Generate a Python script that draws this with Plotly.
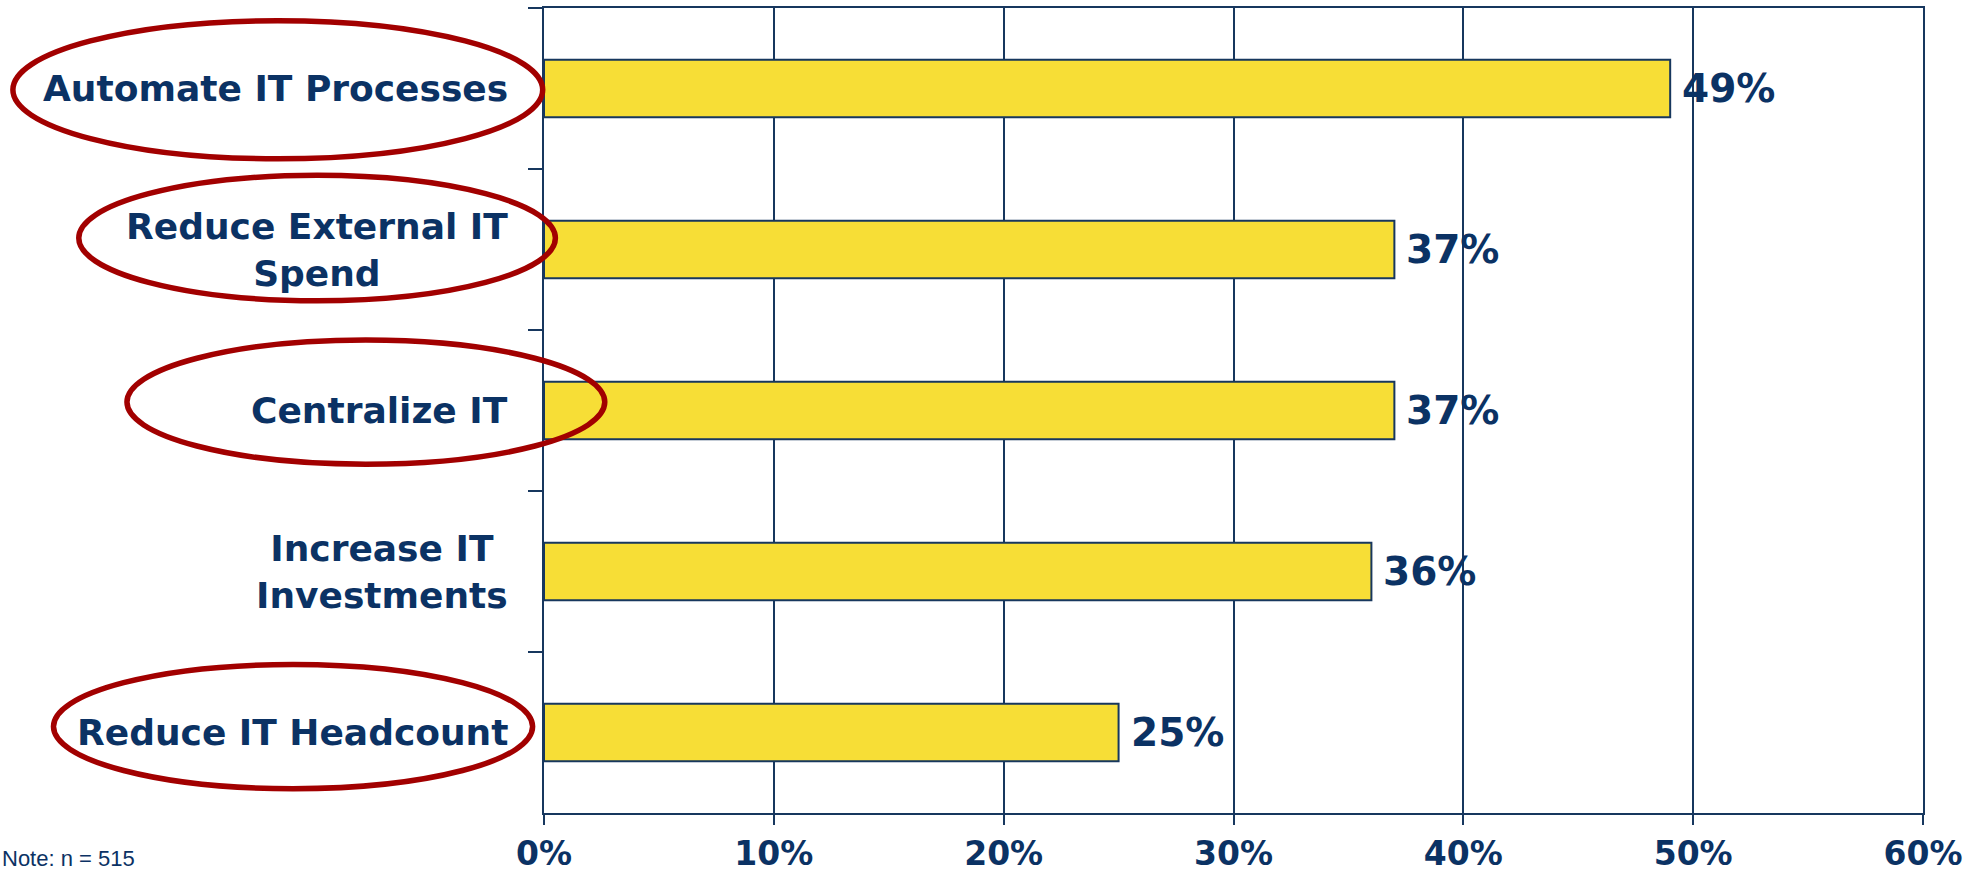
import plotly.graph_objects as go

# ---- data ----
categories = [
    "Automate IT Processes",
    "Reduce External IT<br>Spend",
    "Centralize IT",
    "Increase IT<br>Investments",
    "Reduce IT Headcount",
]
values = [49, 37, 37, 36, 25]
x_ticks = [0, 10, 20, 30, 40, 50, 60]
x_tick_labels = ["0%", "10%", "20%", "30%", "40%", "50%", "60%"]
circled = [True, True, True, False, True]
note_text = "Note: n = 515"

# ---- style ----
W, H = 1988, 874
L, R, T, B = 544, 64.5, 7.6, 61
PW, PH = W - L - R, H - T - B
NAVY = "#17375E"
TEXT = "#0B3264"
YELLOW = "#F7DE36"
RED = "#A20000"
BOLD = "DejaVu Sans"


def px_x(px):
    return (px - L) / PW


def px_y(py):
    return 1 - (py - T) / PH


fig = go.Figure()
fig.add_trace(go.Bar(
    y=categories, x=values, orientation="h",
    marker=dict(color=YELLOW, line=dict(color=NAVY, width=2)),
    hoverinfo="skip",
))

annotations = []
# value labels
for c, v in zip(categories, values):
    annotations.append(dict(
        x=v, y=c, xref="x", yref="y", text=f"{v}%", showarrow=False,
        xanchor="left", yanchor="middle", xshift=10,
        font=dict(family=BOLD, size=39, color=TEXT, weight="bold"),
    ))
# category labels
for c in categories:
    annotations.append(dict(
        x=px_x(510), y=c, xref="paper", yref="y", text=c, showarrow=False,
        xanchor="right", yanchor="middle", align="center",
        font=dict(family=BOLD, size=36, color=TEXT, weight="bold"),
    ))
annotations.append(dict(
    x=px_x(0), y=px_y(873), xref="paper", yref="paper", text=note_text,
    showarrow=False, xanchor="left", yanchor="bottom",
    font=dict(family="Liberation Sans Narrow, Liberation Sans", size=22, color=TEXT),
))

# ellipse outlines (pixel boxes converted to paper coordinates)
ellipse_boxes = {
    0: (12.7, 542.7, 20.3, 158.5),
    1: (78.6, 555.4, 175.0, 300.5),
    2: (126.8, 604.8, 339.8, 464.0),
    4: (53.3, 532.6, 664.4, 788.7),
}
shapes = []
for i, flag in enumerate(circled):
    if not flag:
        continue
    x0, x1, y0, y1 = ellipse_boxes[i]
    shapes.append(dict(
        type="circle", xref="paper", yref="paper",
        x0=px_x(x0), x1=px_x(x1), y0=px_y(y1), y1=px_y(y0),
        line=dict(color=RED, width=5.5), layer="above",
    ))

fig.update_layout(
    width=W, height=H,
    margin=dict(l=L, r=R, t=T, b=B, pad=0, autoexpand=False),
    paper_bgcolor="white", plot_bgcolor="white",
    bargap=0.642,
    showlegend=False,
    annotations=annotations,
    shapes=shapes,
    xaxis=dict(
        range=[0, 60], tickmode="array", tickvals=x_ticks, ticktext=x_tick_labels,
        showgrid=True, gridcolor=NAVY, gridwidth=2,
        showline=True, linecolor=NAVY, linewidth=2, mirror=True,
        ticks="outside", ticklen=10, tickwidth=2, tickcolor=NAVY,
        ticklabelstandoff=0, automargin=False,
        tickfont=dict(family=BOLD, size=33, color=TEXT, weight="bold"),
        zeroline=False, fixedrange=True,
    ),
    yaxis=dict(
        type="category", categoryorder="array", categoryarray=categories,
        autorange="reversed", automargin=False,
        showticklabels=False, showgrid=False,
        showline=True, linecolor=NAVY, linewidth=2, mirror=True,
        ticks="outside", ticklen=14, tickwidth=2, tickcolor=NAVY,
        tickson="boundaries", zeroline=False, fixedrange=True,
    ),
)

fig.write_html("out.html", config={"displayModeBar": False})
